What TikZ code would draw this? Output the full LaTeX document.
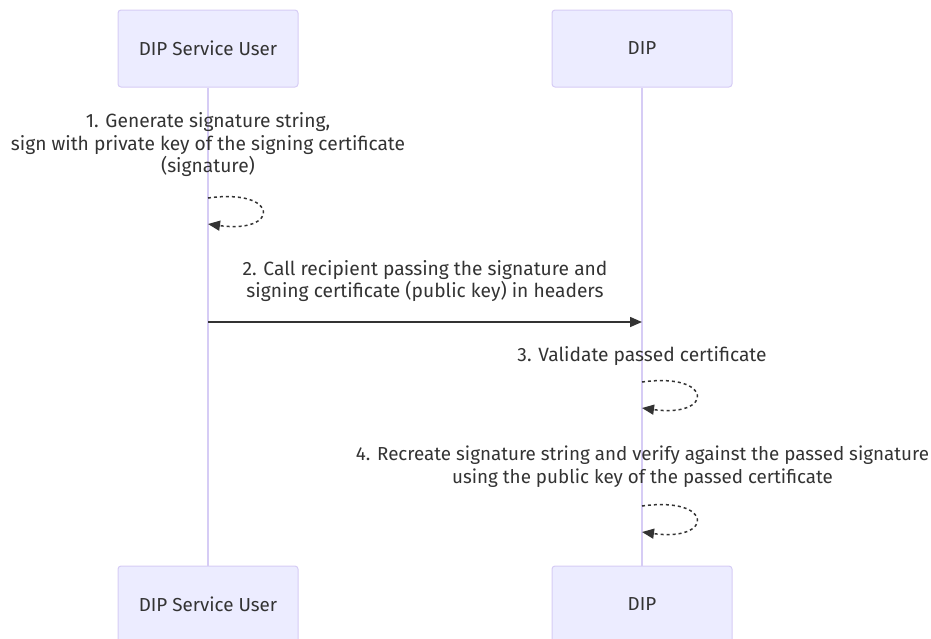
\documentclass[tikz,border=0pt]{standalone}
\usepackage{fontspec}
\setmainfont{Fira Sans}
\usetikzlibrary{arrows.meta}
\definecolor{boxfill}{HTML}{ECECFF}
\definecolor{boxline}{HTML}{D6CCF5}
\definecolor{lifeline}{HTML}{D6CCF5}
\definecolor{txt}{HTML}{333333}
\begin{document}
\begin{tikzpicture}[x=1pt,y=-1pt,
  actor/.style={draw=boxline,fill=boxfill,line width=1pt,rounded corners=3pt,minimum width=180pt,minimum height=77pt,inner sep=0pt,text=txt,font=\fontsize{18.8}{22}\selectfont},
  lbl/.style={text=txt,align=center,font=\fontsize{19.2}{22.5}\selectfont,inner sep=0pt},
  life/.style={draw=lifeline,line width=1.5pt},
  msg/.style={draw=txt,line width=1.5pt,-{Triangle[length=12pt,width=10pt]}},
  selfmsg/.style={draw=txt,line width=1.5pt,dash pattern=on 3pt off 3pt,-{Triangle[length=12pt,width=10pt]}}
]
\useasboundingbox (0,0) rectangle (931,638);
\node[actor] (u1) at (208,48.5) {DIP Service User};
\node[actor] (d1) at (642,48.5) {DIP};
\node[actor] (u2) at (208,604.5) {DIP Service User};
\node[actor] (d2) at (642,604.5) {DIP};
\draw[life] (u1.south) -- (u2.north);
\draw[life] (d1.south) -- (d2.north);

\node[lbl] (t1) at (208,145) {1. Generate signature string,\\sign with private key of the signing certificate\\(signature)};
\coordinate (s1a) at (208,198);
\coordinate (s1b) at (208,224);
\draw[selfmsg] (s1a) .. controls ([shift={(72,-10)}]s1a) and ([shift={(72,10)}]s1b) .. (s1b);

\node[lbl] (t2) at (425,281) {2. Call recipient passing the signature and\\signing certificate (public key) in headers};
\coordinate (m2a) at (208,322);
\coordinate (m2b) at (642,322);
\draw[msg] (m2a) -- (m2b);

\node[lbl] (t3) at (642,356) {3. Validate passed certificate};
\coordinate (s3a) at (642,382);
\coordinate (s3b) at (642,408);
\draw[selfmsg] (s3a) .. controls ([shift={(72,-10)}]s3a) and ([shift={(72,10)}]s3b) .. (s3b);

\node[lbl,font=\fontsize{18.8}{22.5}\selectfont] (t4) at (642.5,466.5) {4. Recreate signature string and verify against the passed signature\\using the public key of the passed certificate};
\coordinate (s4a) at (642,506);
\coordinate (s4b) at (642,532);
\draw[selfmsg] (s4a) .. controls ([shift={(72,-10)}]s4a) and ([shift={(72,10)}]s4b) .. (s4b);
\end{tikzpicture}
\end{document}
